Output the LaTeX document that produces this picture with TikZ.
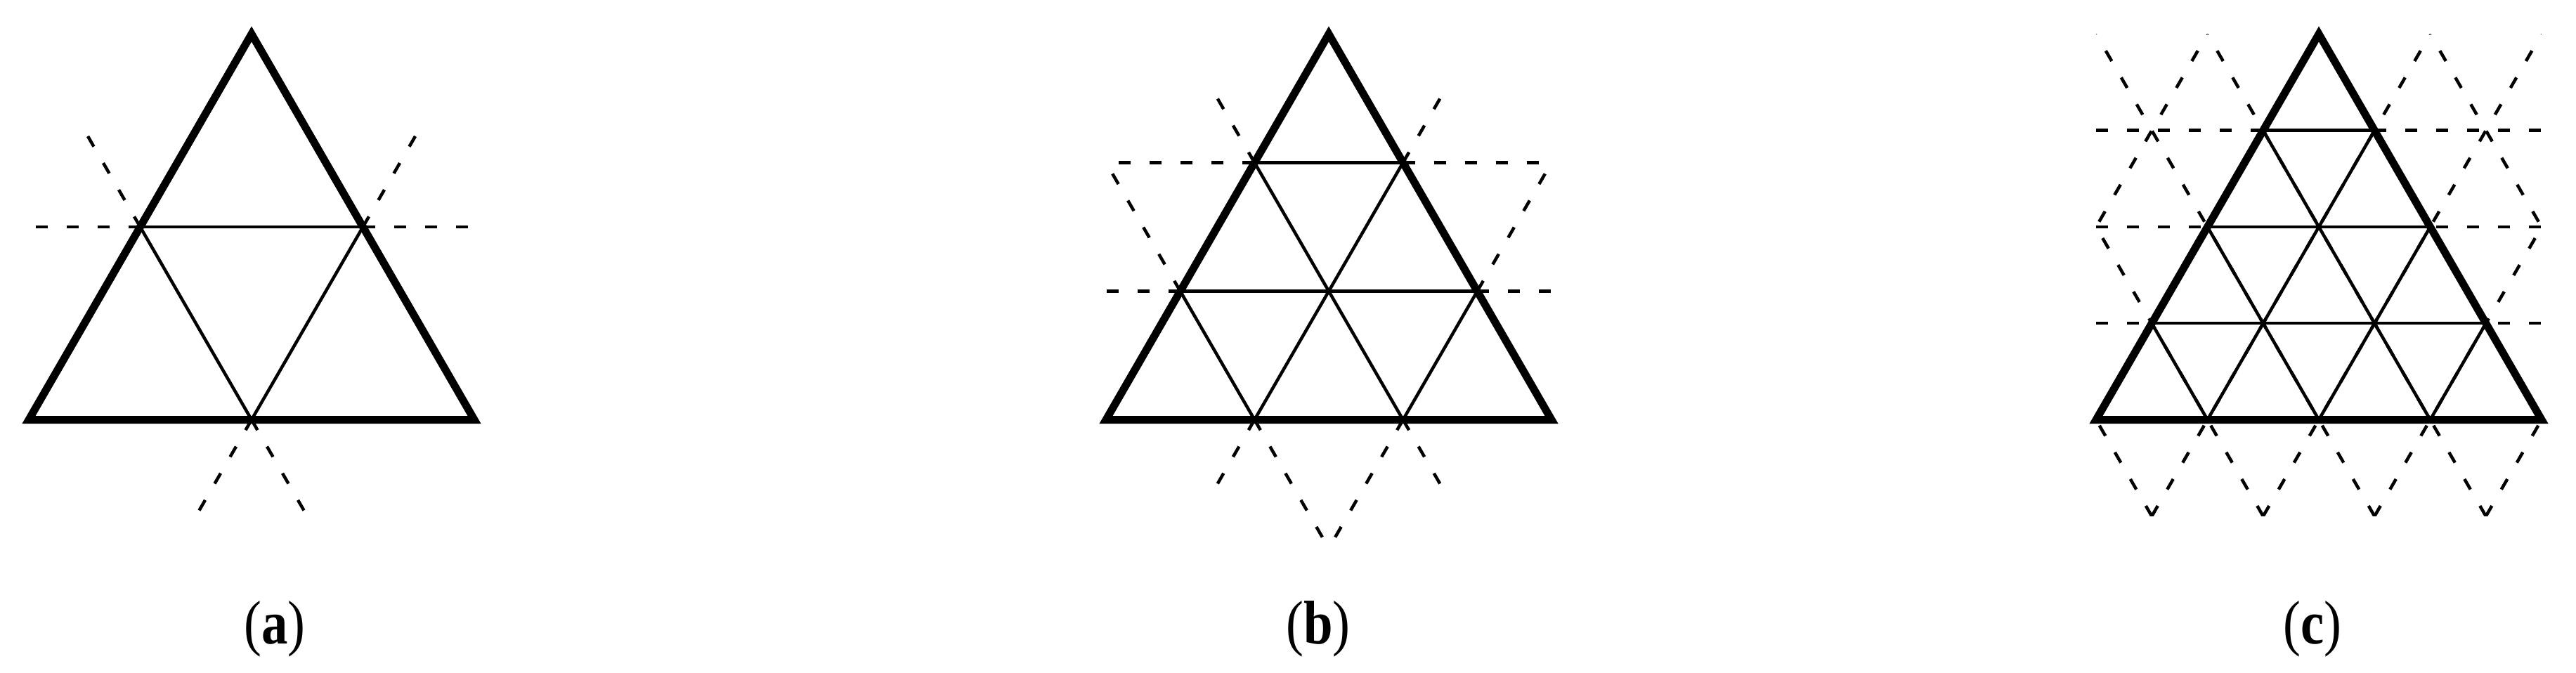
\documentclass[tikz,border=0pt]{standalone}
\usepackage{fontspec}
\setmainfont{Liberation Serif}
\begin{document}
\begin{tikzpicture}[
  bigedge/.style={line width=0.11cm, line join=miter},
  thinsolid/.style={line width=0.045cm},
  thindash/.style={line width=0.045cm, dash pattern=on 0.17cm off 0.27cm},
  lab/.style={font=\fontsize{25pt}{30pt}\selectfont, anchor=base, inner sep=0pt}
]
\useasboundingbox (0,0) rectangle (36.66,9.57);

% ---------- (a) n = 2 ----------
\begin{scope}[shift={(0.41cm,3.595cm)}, x={(3.17cm,0cm)}, y={(0cm,2.7453cm)}]
  % dashed extensions
  \draw[thindash] (0.5,1) -- (0,1);
  \draw[thindash] (1.5,1) -- (2,1);
  \draw[thindash] (0.5,1) -- (0.25,1.5);
  \draw[thindash] (1,0) -- (1.25,-0.5);
  \draw[thindash] (1.5,1) -- (1.75,1.5);
  \draw[thindash] (1,0) -- (0.75,-0.5);
  % interior
  \draw[thinsolid] (0.5,1) -- (1.5,1);
  \draw[thinsolid] (1,0) -- (0.5,1);
  \draw[thinsolid] (1,0) -- (1.5,1);
  % outline
  \draw[bigedge] (0,0) -- (2,0) -- (1,2) -- cycle;
\end{scope}

% ---------- (b) n = 3 ----------
\begin{scope}[shift={(15.74cm,3.595cm)}, x={(2.11333cm,0cm)}, y={(0cm,1.8302cm)}]
  % dashed extensions
  \draw[thindash] (0.5,1) -- (0,1);
  \draw[thindash] (2.5,1) -- (3,1);
  \draw[thindash] (1,2) -- (0,2);
  \draw[thindash] (2,2) -- (3,2);
  \draw[thindash] (0.5,1) -- (0,2);
  \draw[thindash] (1,0) -- (1.5,-1);
  \draw[thindash] (1,2) -- (0.75,2.5);
  \draw[thindash] (2,0) -- (2.25,-0.5);
  \draw[thindash] (2,2) -- (2.25,2.5);
  \draw[thindash] (1,0) -- (0.75,-0.5);
  \draw[thindash] (2.5,1) -- (3,2);
  \draw[thindash] (2,0) -- (1.5,-1);
  % interior
  \foreach \k in {1,2} \draw[thinsolid] (\k/2,\k) -- ({3-\k/2},\k);
  \foreach \j in {1,2} {
    \draw[thinsolid] (\j,0) -- (\j/2,\j);
    \draw[thinsolid] (\j,0) -- ({(3+\j)/2},{3-\j});
  }
  % outline
  \draw[bigedge] (0,0) -- (3,0) -- (1.5,3) -- cycle;
\end{scope}

% ---------- (c) n = 4 ----------
\begin{scope}[shift={(29.83cm,3.595cm)}, x={(1.585cm,0cm)}, y={(0cm,1.37265cm)}]
  \begin{scope}
    \clip (0,-1) rectangle (4,4);
    \foreach \k in {1,2,3} \draw[thindash] (0,\k) -- (4,\k);
    \foreach \j in {0,...,5} \draw[thindash] ({\j+0.5},-1) -- ({\j-2},4);
    \foreach \j in {-1,...,4} \draw[thindash] ({\j-0.5},-1) -- ({\j+2},4);
  \end{scope}
  % interior
  \foreach \k in {1,2,3} \draw[thinsolid] (\k/2,\k) -- ({4-\k/2},\k);
  \foreach \j in {1,2,3} {
    \draw[thinsolid] (\j,0) -- (\j/2,\j);
    \draw[thinsolid] (\j,0) -- ({(4+\j)/2},{4-\j});
  }
  % outline
  \draw[bigedge] (0,0) -- (4,0) -- (2,4) -- cycle;
\end{scope}

% ---------- labels ----------
\node[lab] (la) at (3.91,0.41) {\scalebox{0.85}[1]{(\textbf{a})}};
\node[lab] (lb) at (18.76,0.41) {\scalebox{0.85}[1]{(\textbf{b})}};
\node[lab] (lc) at (32.91,0.41) {\scalebox{0.85}[1]{(\textbf{c})}};
\end{tikzpicture}
\end{document}
